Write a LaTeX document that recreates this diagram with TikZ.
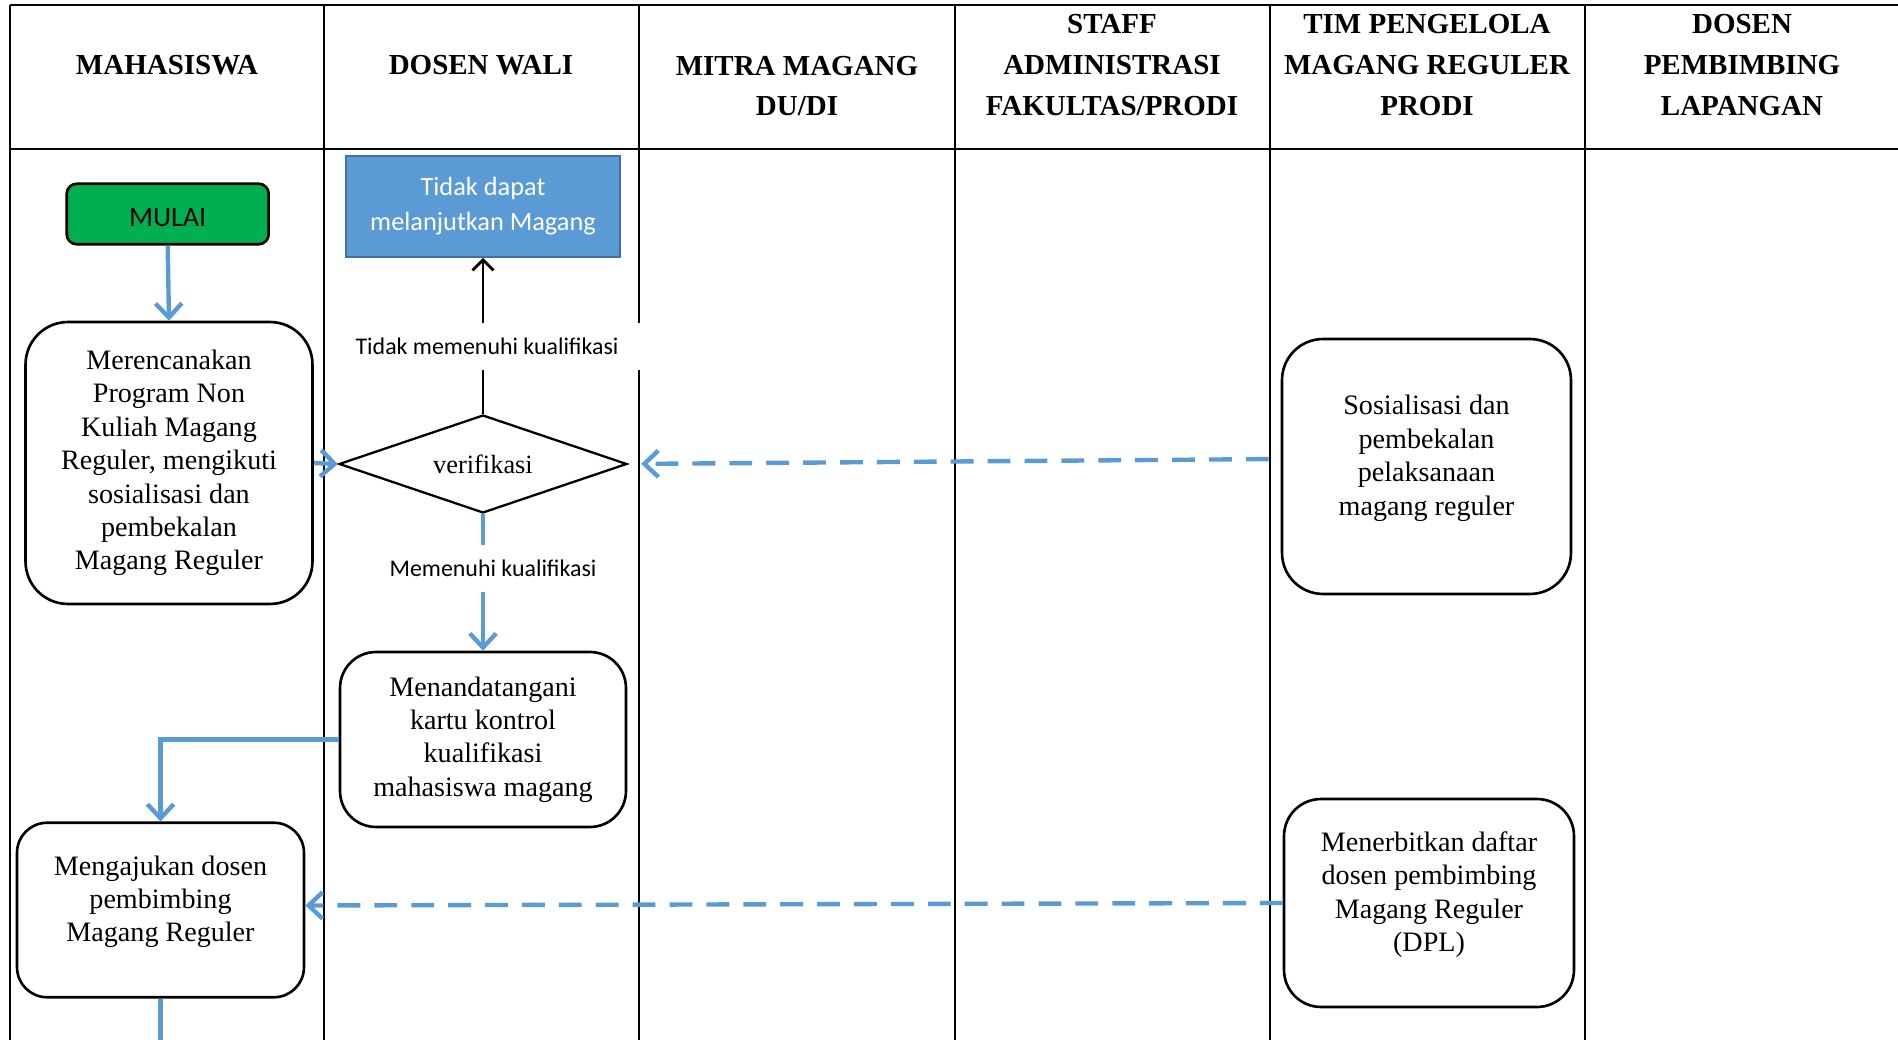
\documentclass[tikz,border=0pt]{standalone}
\usepackage{fontspec}
\setmainfont{Liberation Serif}
\newfontfamily\labelfont{Carlito}
\usetikzlibrary{arrows.meta,shapes.geometric}
\definecolor{flowblue}{RGB}{91,155,213}
\definecolor{boxblue}{RGB}{65,113,156}
\definecolor{startgreen}{RGB}{0,176,80}

\begin{document}
\begin{tikzpicture}[x=0.02cm,y=-0.02cm,
    lane/.style={line width=0.8pt},
    head/.style={font=\bfseries\fontsize{16.5}{23.2}\selectfont,align=center},
    proc/.style={draw,line width=1.5pt,rounded corners=0.75cm,align=center,inner sep=0pt,
      font=\fontsize{16}{19}\selectfont},
    cond/.style={font=\labelfont\fontsize{13.6}{16}\selectfont,fill=white,inner xsep=0.44cm,inner ysep=0.3cm},
    flow/.style={draw=flowblue,line width=2.5pt,-{Straight Barb[length=8pt,width=15pt]}},
    info/.style={flow,dash pattern=on 13pt off 8pt}]

    \useasboundingbox (0,0) rectangle (1898,1040);

    % lajur
    \draw[lane] (10,5) -- (1898,5);
    \draw[lane] (10,149) -- (1898,149);
    \foreach \x in {10,324,639,955,1270,1585}
        \draw[lane] (\x,5) -- (\x,1040);

    \node[head] (hmhs) at (167,65) {MAHASISWA};
    \node[head] (hwali) at (481,65) {DOSEN WALI};
    \node[head] (hmitra) at (797,86) {MITRA MAGANG\\DU/DI};
    \node[head] (hstaff) at (1112,65) {STAFF\\ADMINISTRASI\\FAKULTAS/PRODI};
    \node[head] (htim) at (1427,65) {TIM PENGELOLA\\MAGANG REGULER\\PRODI};
    \node[head] (hdpl) at (1742,65) {DOSEN\\PEMBIMBING\\LAPANGAN};

    % langkah
    \node[proc,fill=startgreen,rounded corners=0.2cm,minimum width=4.04cm,minimum height=1.21cm,
        text height=0.5cm,font=\labelfont\fontsize{16}{19}\selectfont] (mulai) at (167.7,214) {MULAI};
    \node[proc,rounded corners=0.85cm,minimum width=5.74cm,minimum height=5.64cm] (rencana) at (169,463)
        {Merencanakan\\Program Non\\Kuliah Magang\\Reguler, mengikuti\\sosialisasi dan\\pembekalan\\Magang Reguler};
    \node[draw=boxblue,fill=flowblue,line width=1pt,minimum width=5.48cm,minimum height=2.02cm,inner sep=0pt,
        align=center,text=white,font=\labelfont\fontsize{15}{20}\selectfont] (tidak) at (483,206.5)
        {Tidak dapat\\melanjutkan Magang};
    \node[draw,diamond,aspect=2.94,line width=1.3pt,minimum width=5.76cm,minimum height=1.96cm,inner sep=0pt,
        font=\fontsize{15}{18}\selectfont] (verif) at (483,464) {verifikasi};
    \node[proc,rounded corners=0.72cm,minimum width=5.72cm,minimum height=3.5cm] (menand) at (483,739.5)
        {Menandatangani\\kartu kontrol\\kualifikasi\\mahasiswa magang};
    \node[proc,rounded corners=0.6cm,minimum width=5.74cm,minimum height=3.49cm,text depth=0.45cm] (mengaj)
        at (160.5,910) {Mengajukan dosen\\pembimbing\\Magang Reguler};
    \node[proc,rounded corners=0.82cm,minimum width=5.78cm,minimum height=5.1cm,text depth=0.45cm] (sosial)
        at (1426.5,466.5) {Sosialisasi dan\\pembekalan\\pelaksanaan\\magang reguler};
    \node[proc,rounded corners=0.74cm,minimum width=5.8cm,minimum height=4.16cm,text depth=0.45cm] (terbit)
        at (1429,903) {Menerbitkan daftar\\dosen pembimbing\\Magang Reguler\\(DPL)};
    \coordinate (bawah) at (158.6,1040);

    % alur
    \draw[flow] (mulai.south) -- (rencana.north);
    \draw[flow] (rencana.east) -- (verif.west);
    \draw[line width=1.6pt,-{Straight Barb[length=6pt,width=12pt]}] (verif.north)
        -- node[cond,pos=0.43,xshift=0.08cm]{Tidak memenuhi kualifikasi} (tidak.south);
    \draw[flow] (verif.south) -- node[cond,pos=0.4,xshift=0.2cm]{Memenuhi kualifikasi} (menand.north);
    \draw[flow] (menand.west) -| (mengaj.north);
    \draw[info,shorten <=0.24cm,shorten >=0.26cm] ([yshift=0.15cm]sosial.west) -- (verif.east);
    \draw[info] (terbit.west) -- ([yshift=0.09cm]mengaj.east);
    \draw[flow,-] (mengaj.south) -- (mengaj.south |- bawah);
\end{tikzpicture}
\end{document}
